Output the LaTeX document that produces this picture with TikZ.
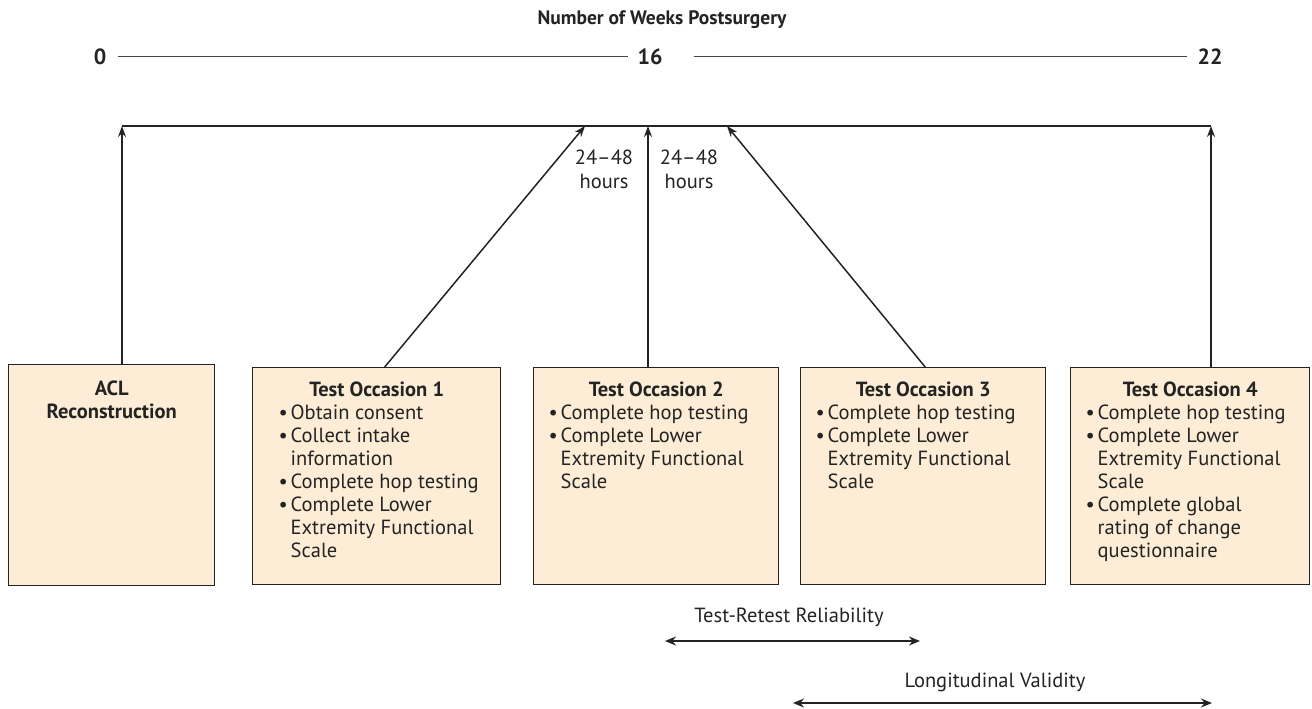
\documentclass[tikz,border=0pt]{standalone}
\usepackage{fontspec}
\setmainfont{PT Sans}
\usetikzlibrary{arrows.meta}
\definecolor{boxfill}{RGB}{253,237,214}
\definecolor{ink}{RGB}{35,35,35}
\newcommand\bitem[1]{\par\hangindent=12pt\hangafter=1\noindent\makebox[12pt][l]{\textbullet}#1}
\newcommand\boxtext[4]{\parbox[c][217pt][t]{#1}{\fontsize{20.5}{23}\selectfont\color{ink}\vspace*{14pt}%
  {\centering\bfseries #2\par}\leftskip=#3\rightskip=0pt plus 1fil #4}}
\begin{document}
\begin{tikzpicture}[x=1pt,y=-1pt,
  box/.style={draw=ink,line width=1.4pt,fill=boxfill,inner sep=0pt,anchor=north west},
  conn/.style={draw=ink,line width=1.5pt,-{Stealth[length=11pt,width=8pt]}},
  both/.style={draw=ink,line width=1.7pt,{Stealth[length=11pt,width=9pt]}-{Stealth[length=11pt,width=9pt]}},
  lbl/.style={font=\fontsize{20.5}{24}\selectfont,text=ink,inner sep=0pt},
  num/.style={font=\fontsize{22}{24}\selectfont\bfseries,text=ink,inner sep=0pt},
  scaleline/.style={draw=ink!85,line width=1pt}]
\useasboundingbox (0,0) rectangle (1312,709);
% top scale
\node[font=\fontsize{19.5}{22}\selectfont\bfseries,text=ink,inner sep=0pt] (title) at (662,20) {Number of Weeks Postsurgery};
\node[num] (n0) at (100,57) {0};
\node[num] (n16) at (650,57) {16};
\node[num] (n22) at (1210,57) {22};
\draw[scaleline,shorten <=12pt,shorten >=22pt] (n0) -- (n0 -| n16);
\draw[scaleline,shorten <=31pt,shorten >=10pt] (n16) -- (n22);
% timeline
\coordinate (t0) at (122,126);
\coordinate (t1) at (585,126);
\coordinate (t2) at (648,126);
\coordinate (t3) at (727,126);
\coordinate (t4) at (1211,126);
\draw[draw=ink,line width=1.4pt] (t0) -- (t4);
% boxes
\node[box] (acl) at (8,364) {\parbox[c][221pt][t]{206pt}{\fontsize{20.5}{23}\selectfont\bfseries\color{ink}\vspace*{16pt}\centering ACL\\Reconstruction\par}};
\node[box] (to1) at (252,367) {\boxtext{248pt}{Test Occasion 1}{26pt}{%
  \bitem{Obtain consent}\bitem{Collect intake\\information}\bitem{Complete hop testing}\bitem{Complete Lower\\Extremity Functional\\Scale}}};
\node[box] (to2) at (533,367) {\boxtext{245pt}{Test Occasion 2}{15pt}{%
  \bitem{Complete hop testing}\bitem{Complete Lower\\Extremity Functional\\Scale}}};
\node[box] (to3) at (800,367) {\boxtext{245pt}{Test Occasion 3}{15pt}{%
  \bitem{Complete hop testing}\bitem{Complete Lower\\Extremity Functional\\Scale}}};
\node[box] (to4) at (1070,367) {\boxtext{239pt}{Test Occasion 4}{15pt}{%
  \bitem{Complete hop testing}\bitem{Complete Lower\\Extremity Functional\\Scale}\bitem{Complete global\\rating of change\\questionnaire}}};
% connectors
\draw[conn] (acl.north -| t0) -- (t0);
\draw[conn] ([xshift=8pt]to1.north) -- (t1);
\draw[conn] (to2.north -| t2) -- (t2);
\draw[conn] ([xshift=2pt]to3.north) -- (t3);
\draw[conn] (to4.north -| t4) -- (t4);
% labels
\node[lbl,align=center] (h1) at (604,169) {24--48\\hours};
\node[lbl,align=center] (h2) at (689,169) {24--48\\hours};
% bottom arrows
\node[lbl] (trr) at (789,617) {Test-Retest Reliability};
\coordinate (r1) at (665,641);
\coordinate (r2) at (920,641);
\draw[both] (r1) -- (r2);
\node[lbl] (lv) at (995,682) {Longitudinal Validity};
\coordinate (v1) at (793,703);
\coordinate (v2) at (1212,703);
\draw[both] (v1) -- (v2);
\end{tikzpicture}
\end{document}
